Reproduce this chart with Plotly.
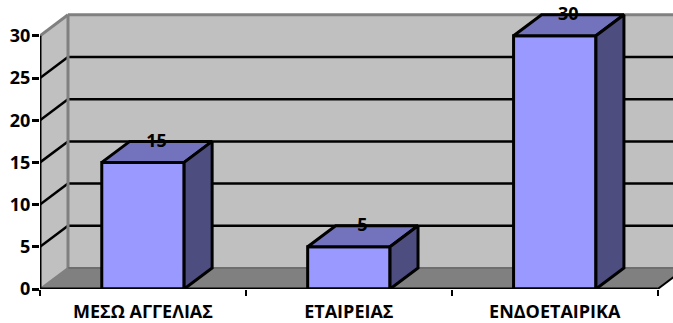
import plotly.graph_objects as go

# Survey results: recruitment channel and number of responses
categories = ["ΜΕΣΩ ΑΓΓΕΛΙΑΣ", "ΕΤΑΙΡΕΙΑΣ", "ΕΝΔΟΕΤΑΙΡΙΚΑ"]
values = [15, 5, 30]
y_ticks = [0, 5, 10, 15, 20, 25, 30]

WIDTH, HEIGHT = 673, 323
LEFT, BOTTOM, TOP = 40, 34, 8
CAT_PX = 205.9            # pixels per category
UNIT_PX = 253.2 / 30      # pixels per value unit
DX = 28 / CAT_PX          # oblique depth, category units
DY = 21 / UNIT_PX         # oblique depth, value units
BAR = 0.40                # bar width, category units
N = len(categories)
FONT = "Open Sans"

x_max = (WIDTH - LEFT) / CAT_PX
y_max = (HEIGHT - BOTTOM - TOP) / UNIT_PX


def poly(xs, ys, fill, line="rgba(0,0,0,0)", lw=0, layer="below"):
    path = "M " + " L ".join(f"{x},{y}" for x, y in zip(xs, ys)) + " Z"
    return dict(type="path", xref="x", yref="y", path=path, fillcolor=fill,
                line=dict(color=line, width=lw), layer=layer)


def seg(x0, y0, x1, y1, color, lw=2.5):
    return dict(type="line", xref="x", yref="y", x0=x0, y0=y0, x1=x1, y1=y1,
                line=dict(color=color, width=lw), layer="below")


top = y_ticks[-1]
shapes = [
    poly([DX, N + DX, N + DX, DX], [DY, DY, top + DY, top + DY], "#C0C0C0"),      # back wall
    poly([0, DX, DX, 0], [0, DY, top + DY, top], "#C0C0C0"),                      # side wall
    poly([0, N, N + DX, DX], [0, 0, DY, DY], "#808080"),                          # floor
]
for v in y_ticks[1:-1]:
    shapes.append(seg(0, v, DX, v + DY, "black"))
    shapes.append(seg(DX, v + DY, N + DX, v + DY, "black"))
shapes += [
    seg(0, top, DX, top + DY, "#808080", 3),
    seg(DX, top + DY, N + DX, top + DY, "#808080", 3),
    seg(DX, DY, DX, top + DY, "#808080", 3),
    seg(DX, DY, N + DX, DY, "#6E6E6E", 2),
    seg(0, 0, DX, DY, "#808080", 2),
    seg(N, 0, N + DX, DY, "black", 2),
]

centers = [i + 0.5 for i in range(N)]
fig = go.Figure()

# Front faces of the columns
fig.add_trace(go.Bar(x=centers, y=values, width=BAR,
                     marker=dict(color="#9999FF", line=dict(color="black", width=3))))

# Top and side faces, projected from each value
for c, v in zip(centers, values):
    l, r = c - BAR / 2, c + BAR / 2
    fig.add_trace(go.Scatter(x=[l, r, r + DX, l + DX, l], y=[v, v, v + DY, v + DY, v],
                             mode="lines", fill="toself", fillcolor="#7373BD",
                             line=dict(color="black", width=3), cliponaxis=False))
    fig.add_trace(go.Scatter(x=[r, r + DX, r + DX, r, r], y=[0, DY, v + DY, v, 0],
                             mode="lines", fill="toself", fillcolor="#4D4D80",
                             line=dict(color="black", width=3), cliponaxis=False))

# Value axis and category axis lines
fig.add_trace(go.Scatter(x=[0, 0], y=[0, top], mode="lines",
                         line=dict(color="black", width=3), cliponaxis=False))
fig.add_trace(go.Scatter(x=[0, N], y=[0, 0], mode="lines",
                         line=dict(color="black", width=3), cliponaxis=False))

# Data labels sit on the rear edge of each top face
fig.add_trace(go.Scatter(x=[c + DX / 2 - 0.002 for c in centers], y=[v + DY - 0.12 for v in values],
                         mode="text", text=[str(v) for v in values], textposition="middle center",
                         textfont=dict(family=FONT, size=18, color="black", weight="bold"),
                         cliponaxis=False))

# Invisible trace that carries the category labels on the second x axis
fig.add_trace(go.Scatter(x=centers, y=values, xaxis="x2", mode="markers",
                         marker=dict(opacity=0), hoverinfo="skip"))

fig.update_layout(
    width=WIDTH, height=HEIGHT, showlegend=False,
    margin=dict(l=LEFT, r=0, t=TOP, b=BOTTOM, pad=0),
    paper_bgcolor="white", plot_bgcolor="white",
    shapes=shapes,
    xaxis=dict(range=[0, x_max], tickmode="array", tickvals=list(range(N + 1)), ticktext=[""] * (N + 1),
               ticks="outside", ticklen=6, tickwidth=2, tickcolor="black", automargin=False,
               showgrid=False, zeroline=False, showline=False),
    xaxis2=dict(range=[0, x_max], overlaying="x", side="bottom", anchor="y", automargin=False,
                tickmode="array", tickvals=centers, ticktext=categories, ticks="",
                ticklabelstandoff=10, showgrid=False, zeroline=False, showline=False,
                tickfont=dict(family=FONT, size=18, color="black", weight="bold")),
    yaxis=dict(range=[0, y_max], tickmode="array", tickvals=y_ticks, ticks="outside",
               ticklen=7, tickwidth=2.5, tickcolor="black", ticklabelstandoff=-2, automargin=False,
               showgrid=False, zeroline=False, showline=False,
               tickfont=dict(family=FONT, size=18, color="black", weight="bold")),
)
fig.write_html("out.html", config=dict(displayModeBar=False))
